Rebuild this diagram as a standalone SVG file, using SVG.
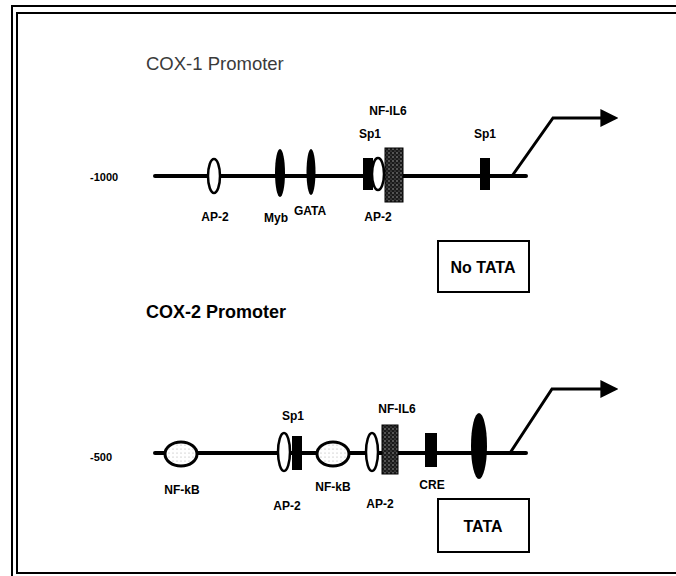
<svg xmlns="http://www.w3.org/2000/svg" width="676" height="576" viewBox="0 0 676 576">
<defs>
<pattern id="dots" width="4" height="4" patternUnits="userSpaceOnUse">
<rect width="4" height="4" fill="#1a1a1a"/>
<circle cx="1" cy="1" r="0.7" fill="#bbb"/>
<circle cx="3" cy="3" r="0.6" fill="#888"/>
</pattern>
<pattern id="ldots" width="4" height="4" patternUnits="userSpaceOnUse">
<rect width="4" height="4" fill="#fff"/>
<circle cx="1" cy="1" r="0.5" fill="#999"/>
</pattern>
<marker id="ah" viewBox="0 0 10 10" refX="2" refY="5" markerWidth="6" markerHeight="6" orient="auto" markerUnits="strokeWidth">
<path d="M0,0 L10,5 L0,10 Z" fill="#000"/>
</marker>
<style>
.dna{stroke:#000;stroke-width:4;fill:none;stroke-linecap:round}
.open{fill:#fff;stroke:#000;stroke-width:2.5}
.nfkb{fill:url(#ldots);stroke:#000;stroke-width:3}
.blk{fill:#000}
.il6{fill:url(#dots);stroke:#000;stroke-width:1}
.tss{stroke:#000;stroke-width:3;fill:none}
.lbl{font-family:"Liberation Sans",Arial,sans-serif;font-size:12px;font-weight:bold;fill:#000;text-anchor:middle}
.num{font-family:"Liberation Sans",Arial,sans-serif;font-size:11px;font-weight:bold;fill:#000;text-anchor:start}
.box{fill:#fff;stroke:#000;stroke-width:2}
.boxt{font-family:"Liberation Sans",Arial,sans-serif;font-size:16px;font-weight:bold;fill:#000;text-anchor:middle}
.frame{fill:none;stroke:#000;stroke-width:2}
</style>
</defs>
<rect width="676" height="576" fill="#fff"/>
<g id="frame">
<path class="frame" d="M12,576 V6 H676"/>
<path class="frame" d="M676,13 H17 V573 H676"/>
</g>
<g id="cox1-title"><text x="146" y="70" font-family="Liberation Sans, Arial, sans-serif" font-size="18.5" fill="#3a3a3a">COX-1 Promoter</text></g>
<g id="cox2-title"><text x="146" y="318" font-family="Liberation Sans, Arial, sans-serif" font-size="18" font-weight="bold" fill="#000">COX-2 Promoter</text></g>
<g id="connectors">
<line class="dna" x1="155" y1="176" x2="526" y2="176"/>
<polyline class="tss" points="512,176 553,118 604,118" marker-end="url(#ah)"/>
<line class="dna" x1="155" y1="453" x2="526" y2="453"/>
<polyline class="tss" points="510,453 552,389 604,389" marker-end="url(#ah)"/>
</g>
<g id="cox1-pos"><text class="num" x="90" y="181">-1000</text></g>
<g id="cox1-ap2a"><ellipse class="open" cx="214" cy="176" rx="6" ry="17"/><text class="lbl" x="215" y="221">AP-2</text></g>
<g id="cox1-myb"><ellipse class="blk" cx="280" cy="173" rx="5" ry="24"/><text class="lbl" x="276" y="222">Myb</text></g>
<g id="cox1-gata"><ellipse class="blk" cx="311" cy="172" rx="4.5" ry="23"/><text class="lbl" x="310" y="215">GATA</text></g>
<g id="cox1-sp1a"><rect class="blk" x="363" y="158" width="10" height="32"/><text class="lbl" x="370" y="138">Sp1</text></g>
<g id="cox1-ap2b"><ellipse class="open" cx="378" cy="174" rx="6" ry="16"/><text class="lbl" x="378" y="221">AP-2</text></g>
<g id="cox1-nfil6"><rect class="il6" x="385" y="148" width="18" height="54"/><text class="lbl" x="388" y="115">NF-IL6</text></g>
<g id="cox1-sp1b"><rect class="blk" x="480" y="158" width="10" height="32"/><text class="lbl" x="485" y="138">Sp1</text></g>
<g id="cox1-notata"><rect class="box" x="438" y="241" width="91" height="51"/><text class="boxt" x="483" y="273">No TATA</text></g>
<g id="cox2-pos"><text class="num" x="90" y="461">-500</text></g>
<g id="cox2-nfkba"><ellipse class="nfkb" cx="181" cy="454" rx="16" ry="12"/><text class="lbl" x="182" y="494">NF-kB</text></g>
<g id="cox2-ap2a"><ellipse class="open" cx="284" cy="452" rx="6" ry="19"/><text class="lbl" x="287" y="510">AP-2</text></g>
<g id="cox2-sp1"><rect class="blk" x="292" y="436" width="10" height="34"/><text class="lbl" x="293" y="420">Sp1</text></g>
<g id="cox2-nfkbb"><ellipse class="nfkb" cx="333" cy="454" rx="16" ry="12"/><text class="lbl" x="333" y="491">NF-kB</text></g>
<g id="cox2-ap2b"><ellipse class="open" cx="372" cy="452" rx="6" ry="19"/><text class="lbl" x="380" y="508">AP-2</text></g>
<g id="cox2-nfil6"><rect class="il6" x="382" y="425" width="16" height="49"/><text class="lbl" x="397" y="413">NF-IL6</text></g>
<g id="cox2-cre"><rect class="blk" x="425" y="433" width="12" height="34"/><text class="lbl" x="432" y="489">CRE</text></g>
<g id="cox2-tata"><ellipse class="blk" cx="479" cy="446" rx="8" ry="33"/></g>
<g id="cox2-tatabox"><rect class="box" x="438" y="499" width="91" height="53"/><text class="boxt" x="483" y="532">TATA</text></g>
</svg>
